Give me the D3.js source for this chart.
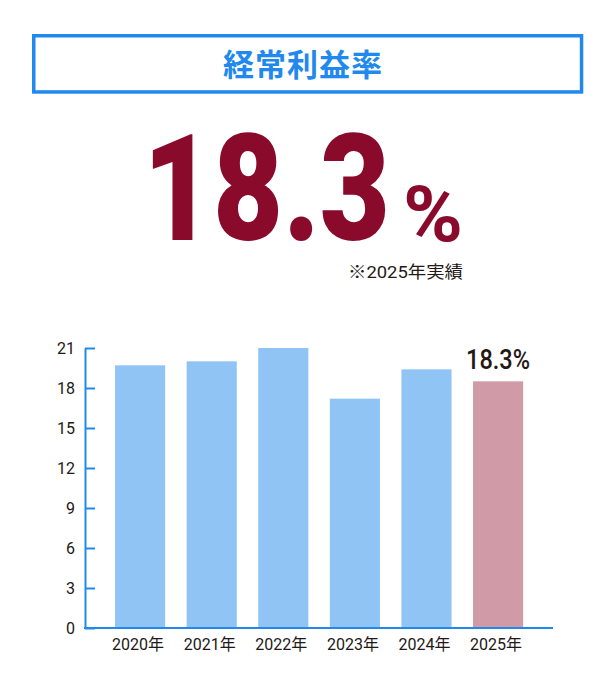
<!DOCTYPE html>
<html>
<head>
<meta charset="utf-8">
<script src="https://cdn.jsdelivr.net/npm/d3@7"></script>
<style>
  html, body { margin: 0; padding: 0; background: #fff; }
  svg { display: block; }
</style>
</head>
<body>
<script>
// ---- data ----
const title = "経常利益率";
const headlineValue = "18.3";
const headlineUnit = "%";
const headlineNote = "※2025年実績";
const categories = ["2020年", "2021年", "2022年", "2023年", "2024年", "2025年"];
const values = [19.7, 20.0, 21.0, 17.2, 19.4, 18.5];
const highlightLabel = "18.3%";
const yTicks = [0, 3, 6, 9, 12, 15, 18, 21];

// ---- styles ----
const BLUE = "#2189EE";
const BAR_BLUE = "#90C4F4";
const BAR_PINK = "#D09AA7";
const MAROON = "#8A0A2B";
const TEXT = "#231815";
const NUM_FONT = "Roboto, 'Noto Sans CJK JP', sans-serif";
const JP_FONT = "'Noto Sans CJK JP', 'Noto Sans', sans-serif";

const W = 616, H = 700;
const svg = d3.select("body").append("svg").attr("width", W).attr("height", H);

// places a text so that its advance width equals `width` (horizontal scale only)
function fitText(sel, x, y, width, anchor) {
  const natural = sel.node().getComputedTextLength();
  const sx = width / natural;
  const x0 = anchor === "end" ? x - width : anchor === "middle" ? x - width / 2 : x;
  sel.attr("text-anchor", "start")
    .attr("transform", `translate(${x0},${y}) scale(${sx},1)`);
  return sel;
}

// title box
svg.append("rect")
  .attr("x", 33.75).attr("y", 35.75).attr("width", 547.8).attr("height", 56.2)
  .attr("fill", "none").attr("stroke", BLUE).attr("stroke-width", 3.5);
svg.append("text")
  .attr("x", 303).attr("y", 75.5)
  .attr("text-anchor", "middle")
  .attr("font-family", JP_FONT).attr("font-weight", 700).attr("font-size", 31)
  .attr("letter-spacing", 1)
  .attr("fill", BLUE)
  .text(title);

// headline
fitText(svg.append("text")
  .attr("font-family", NUM_FONT).attr("font-weight", 900).attr("font-size", 148)
  .attr("fill", MAROON)
  .text(headlineValue), 143, 240, 247, "start");
fitText(svg.append("text")
  .attr("font-family", NUM_FONT).attr("font-weight", 700).attr("font-size", 77)
  .attr("fill", MAROON)
  .text(headlineUnit), 403, 241, 60, "start");
fitText(svg.append("text")
  .attr("font-family", NUM_FONT).attr("font-weight", 400).attr("font-size", 17)
  .attr("fill", TEXT)
  .text(headlineNote), 463, 278, 115, "end");

// chart
const y = d3.scaleLinear().domain([0, 21]).range([628, 348]);
const x = d3.scaleBand().domain(categories).range([104.3, 533.9])
  .paddingInner(0.3).paddingOuter(0.15);

svg.append("g").selectAll("rect")
  .data(values)
  .join("rect")
  .attr("x", (d, i) => x(categories[i]))
  .attr("width", x.bandwidth())
  .attr("y", d => y(d))
  .attr("height", d => y(0) - y(d))
  .attr("fill", (d, i) => i === values.length - 1 ? BAR_PINK : BAR_BLUE);

// y axis
const yAxis = svg.append("g")
  .attr("transform", "translate(85,0)")
  .call(d3.axisLeft(y).tickValues(yTicks).tickFormat(d3.format("d"))
    .tickSize(-10).tickSizeOuter(0).tickPadding(10));
yAxis.select(".domain").attr("stroke", BLUE).attr("stroke-width", 2);
yAxis.selectAll(".tick line").attr("stroke", BLUE).attr("stroke-width", 2);
yAxis.selectAll(".tick text")
  .attr("font-family", NUM_FONT).attr("font-size", 16).attr("fill", TEXT);

// x axis
const xAxis = svg.append("g")
  .attr("transform", "translate(0,628)")
  .call(d3.axisBottom(x).tickSize(0).tickPadding(11));
xAxis.select(".domain").remove();
xAxis.selectAll(".tick text")
  .attr("font-family", NUM_FONT).attr("font-size", 16).attr("fill", TEXT)
  .attr("dx", -2);
svg.append("line")
  .attr("x1", 84).attr("x2", 553).attr("y1", 628).attr("y2", 628)
  .attr("stroke", BLUE).attr("stroke-width", 2);

// highlight label
const last = values.length - 1;
fitText(svg.append("text")
  .attr("font-family", NUM_FONT).attr("font-weight", 500).attr("font-size", 27)
  .attr("fill", TEXT)
  .text(highlightLabel),
  x(categories[last]) + x.bandwidth() / 2, y(values[last]) - 12, 64, "middle");
</script>
</body>
</html>
